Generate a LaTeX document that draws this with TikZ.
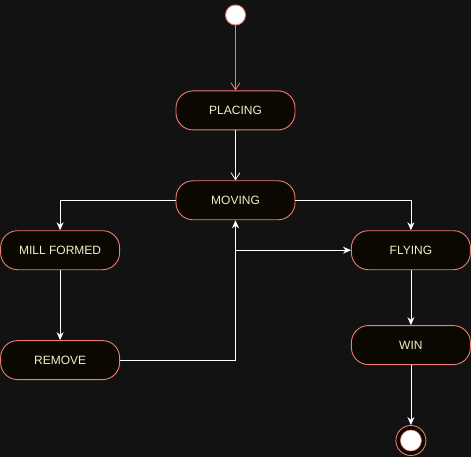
\documentclass[tikz,border=0pt]{standalone}
\usepackage{fontspec}
\setmainfont{Liberation Sans}
\usetikzlibrary{arrows.meta,positioning}
\definecolor{bgdark}{HTML}{121212}
\definecolor{boxfill}{HTML}{0A0800}
\definecolor{salmon}{HTML}{EE7B74}
\definecolor{labeltext}{HTML}{F2F0C8}
\begin{document}
\begin{tikzpicture}[x=1pt,y=1pt,>={Stealth[length=8pt,width=7pt]},
  state/.style={draw=salmon,fill=boxfill,rounded corners=17pt,line width=0.9pt,
    minimum width=119pt,minimum height=39pt,text=labeltext,
    font=\fontsize{12}{14}\selectfont,inner sep=0pt},
  flow/.style={draw=white,line width=0.8pt,->},
  openarr/.style={line width=0.8pt,-{Straight Barb[length=7pt,width=9pt]}}]
\fill[bgdark] (0,0) rectangle (471,-457);
\useasboundingbox (0,0) rectangle (471,-457);
\node[circle,draw=salmon,fill=white,line width=0.9pt,minimum size=20pt,inner sep=0pt] (start) at (235.5,-15) {};
\node[state,below=65pt of start] (placing) {PLACING};
\node[state,below=50pt of placing] (moving) {MOVING};
\node[state,below left=10pt and 55.5pt of moving] (mill) {MILL FORMED};
\node[state,below right=10pt and 55.5pt of moving] (flying) {FLYING};
\node[state,below=70pt of mill] (remove) {REMOVE};
\node[state,below=55pt of flying] (win) {WIN};
\node[circle,draw=salmon,fill=boxfill,line width=0.9pt,minimum size=30pt,inner sep=0pt,below=60pt of win] (stop) {};
\node[circle,draw=salmon,fill=white,line width=0.6pt,minimum size=21pt,inner sep=0pt] (stopdot) at (stop) {};
\coordinate (jn) at (moving.south |- flying.west);
\draw[openarr,salmon] (start) -- (placing);
\draw[openarr,white] (placing) -- (moving);
\draw[flow] (moving.west) -| (mill.north);
\draw[flow] (moving.east) -| (flying.north);
\draw[flow] (mill) -- (remove);
\draw[flow] (remove.east) -| (moving.south);
\draw[flow] (jn) -- (flying.west);
\draw[flow] (flying) -- (win);
\draw[flow] (win) -- (stop);
\end{tikzpicture}
\end{document}
